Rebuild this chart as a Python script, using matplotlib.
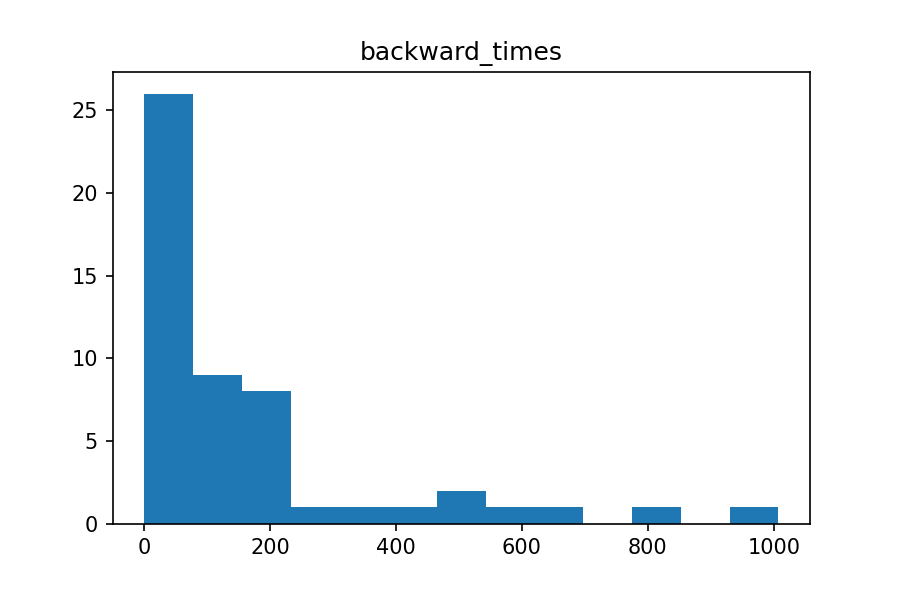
import matplotlib
matplotlib.use("Agg")
import matplotlib.pyplot as plt
import numpy as np

# histogram of backward_times: 13 equal bins between min and max
x_min, x_max = 0.5, 1007.0
n_bins = 13
counts = [26, 9, 8, 1, 1, 1, 2, 1, 1, 0, 1, 0, 1]

edges = np.linspace(x_min, x_max, n_bins + 1)

fig, ax = plt.subplots(figsize=(6, 4), dpi=150)
fig.subplots_adjust(left=0.125, right=0.9, top=0.88, bottom=0.127)
ax.hist(edges[:-1], bins=edges, weights=counts, color="#1f77b4")
ax.set_title("backward_times")
fig.savefig("out.png", dpi=150)
